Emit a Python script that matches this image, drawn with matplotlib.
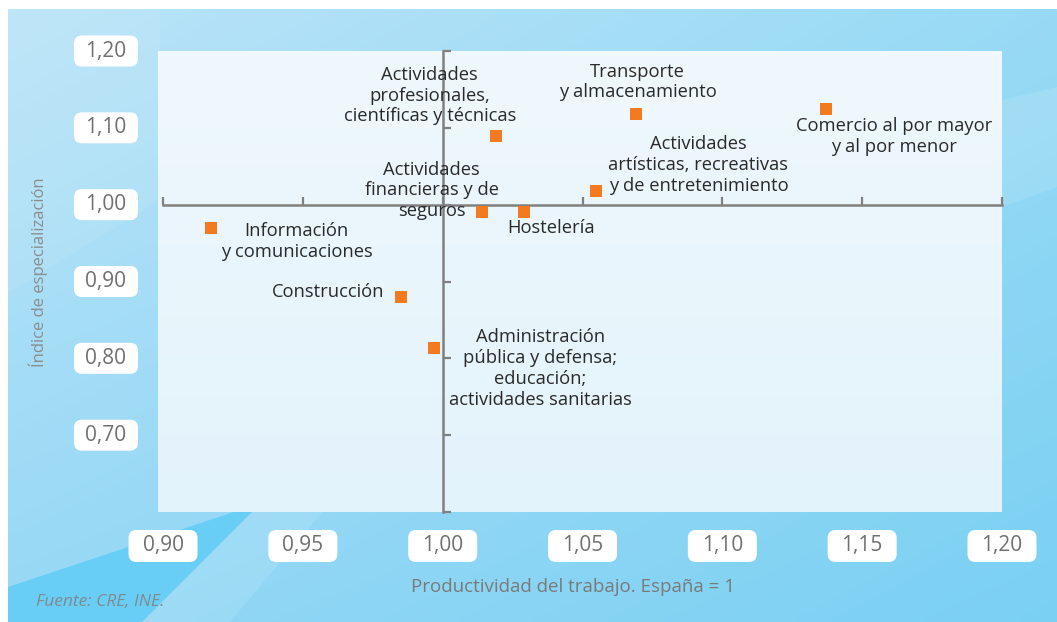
import matplotlib.pyplot as plt
import matplotlib.transforms as mtransforms
from matplotlib.patches import Polygon, FancyBboxPatch
import numpy as np

plt.rcParams["font.family"] = ["Open Sans", "DejaVu Sans"]

# Data
sectores = [
    "Información\ny comunicaciones",
    "Construcción",
    "Administración\npública y defensa;\neducación;\nactividades sanitarias",
    "Actividades\nfinancieras y de\nseguros",
    "Hostelería",
    "Actividades\nprofesionales,\ncientíficas y técnicas",
    "Actividades\nartísticas, recreativas\ny de entretenimiento",
    "Transporte\ny almacenamiento",
    "Comercio al por mayor\ny al por menor",
]
productividad = [0.917, 0.985, 0.997, 1.014, 1.029, 1.019, 1.055, 1.069, 1.137]
especializacion = [0.969, 0.880, 0.813, 0.990, 0.990, 1.090, 1.018, 1.118, 1.125]

x_ticks = [0.90, 0.95, 1.00, 1.05, 1.10, 1.15, 1.20]
y_ticks = [0.70, 0.80, 0.90, 1.00, 1.10, 1.20]

# label placement (pixel offsets from the marker, alignment)
label_pos = [
    (86, -13, "center"),
    (-16, 5, "right"),
    (106, -20, "center"),
    (-50, 22, "center"),
    (27, -16, "center"),
    (-66, 40, "center"),
    (102, 26, "center"),
    (2, 32, "center"),
    (68, -28, "center"),
]

W, H = 1057, 622
fig = plt.figure(figsize=(W / 100, H / 100), dpi=100)
fig.patch.set_facecolor("white")

# background panel with soft blue gradient
bg = fig.add_axes([8 / W, 0, 1 - 8 / W, 1 - 9 / H])
bg.set_axis_off()
gw, gh = 200, 120
u = np.linspace(0, 1, gw)[None, :, None]
v = np.linspace(0, 1, gh)[:, None, None]
tl = np.array([186, 228, 248]) / 255
tr = np.array([152, 218, 245]) / 255
bl = np.array([150, 216, 245]) / 255
br = np.array([122, 208, 243]) / 255
img = (tl * (1 - u) * (1 - v) + tr * u * (1 - v) + bl * (1 - u) * v + br * u * v)
bg.imshow(img, extent=(8, W, H, 9), aspect="auto", interpolation="bilinear")
bg.set_xlim(8, W)
bg.set_ylim(H, 9)
bg.add_patch(Polygon([(8, 587), (261, 503), (142, 622), (8, 622)],
                     closed=True, facecolor="#69cef5", edgecolor="none"))
bg.add_patch(Polygon([(142, 622), (261, 503), (330, 503), (230, 622)],
                     closed=True, facecolor="white", alpha=0.10, edgecolor="none"))
bg.add_patch(Polygon([(8, 293), (160, 200), (160, 9), (8, 9)],
                     closed=True, facecolor="white", alpha=0.08, edgecolor="none"))
bg.add_patch(Polygon([(1002, 207), (W, 187), (W, 87), (1002, 100)],
                     closed=True, facecolor="white", alpha=0.12, edgecolor="none"))

# main plot area
ax = fig.add_axes([158 / W, (H - 512) / H, (1002 - 158) / W, (512 - 51) / H])
pg = np.linspace(0, 1, 100)
panel = (np.array([239, 248, 253]) / 255 * (1 - pg[:, None, None])
         + np.array([227, 243, 251]) / 255 * pg[:, None, None]) * np.ones((1, 2, 1))
ax.imshow(panel, extent=(0.8982, 1.20, 0.60, 1.20), aspect="auto",
          origin="upper", zorder=0)
ax.set_xlim(0.8982, 1.20)
ax.set_ylim(0.60, 1.20)

for side in ["top", "right"]:
    ax.spines[side].set_visible(False)
ax.spines["left"].set_position(("data", 1.0))
ax.spines["bottom"].set_position(("data", 1.0))
ax.spines["left"].set_bounds(0.60, 1.20)
ax.spines["bottom"].set_bounds(0.90, 1.20)
for side in ["left", "bottom"]:
    ax.spines[side].set_color("#808080")
    ax.spines[side].set_linewidth(1.8)
    ax.spines[side].set_zorder(2)
ax.set_xticks(x_ticks)
ax.set_yticks(y_ticks + [0.60])
ax.tick_params(direction="in", length=6, width=1.6, color="#808080",
               labelbottom=False, labelleft=False)

# points
ax.scatter(productividad, especializacion, marker="s", s=85,
           color="#f47a20", zorder=4, linewidths=0)

for name, px, py, (dx, dy, ha) in zip(sectores, productividad, especializacion, label_pos):
    ax.annotate(name, (px, py), xytext=(dx, dy), textcoords="offset pixels",
                ha=ha, va="center", multialignment="center",
                fontsize=13.2, color="#2a2a2a", linespacing=1.2, zorder=5)

# tick labels in white rounded boxes (sizes in pixels)
pix = mtransforms.IdentityTransform()
for t in x_ticks:
    cx = ax.transData.transform((t, 1.0))[0]
    cy = H - 546
    fig.add_artist(FancyBboxPatch((cx - 34.5, cy - 16), 69, 32,
                                  boxstyle="round,pad=0,rounding_size=8",
                                  facecolor="white", edgecolor="none",
                                  transform=pix))
    fig.text(cx / W, cy / H, f"{t:.2f}".replace(".", ","), ha="center",
             va="center", fontsize=15, color="#707070")
for t in y_ticks:
    cy = ax.transData.transform((1.0, t))[1]
    cx = 106
    fig.add_artist(FancyBboxPatch((cx - 32, cy - 15.5), 64, 31,
                                  boxstyle="round,pad=0,rounding_size=8",
                                  facecolor="white", edgecolor="none",
                                  transform=pix))
    fig.text(cx / W, cy / H, f"{t:.2f}".replace(".", ","), ha="center",
             va="center", fontsize=15, color="#707070")

fig.text(38 / W, 1 - 272 / H, "Índice de especialización", rotation=90,
         ha="center", va="center", fontsize=12, color="#8c8c8c")
fig.text(573 / W, 1 - 587 / H, "Productividad del trabajo. España = 1",
         ha="center", va="center", fontsize=13.5, color="#7a7a7a")
fig.text(36 / W, 1 - 602 / H, "Fuente: CRE, INE.", ha="left", va="center",
         fontsize=12.5, style="italic", color="#7f8a90")

plt.savefig("out.png", dpi=100)
plt.close()
